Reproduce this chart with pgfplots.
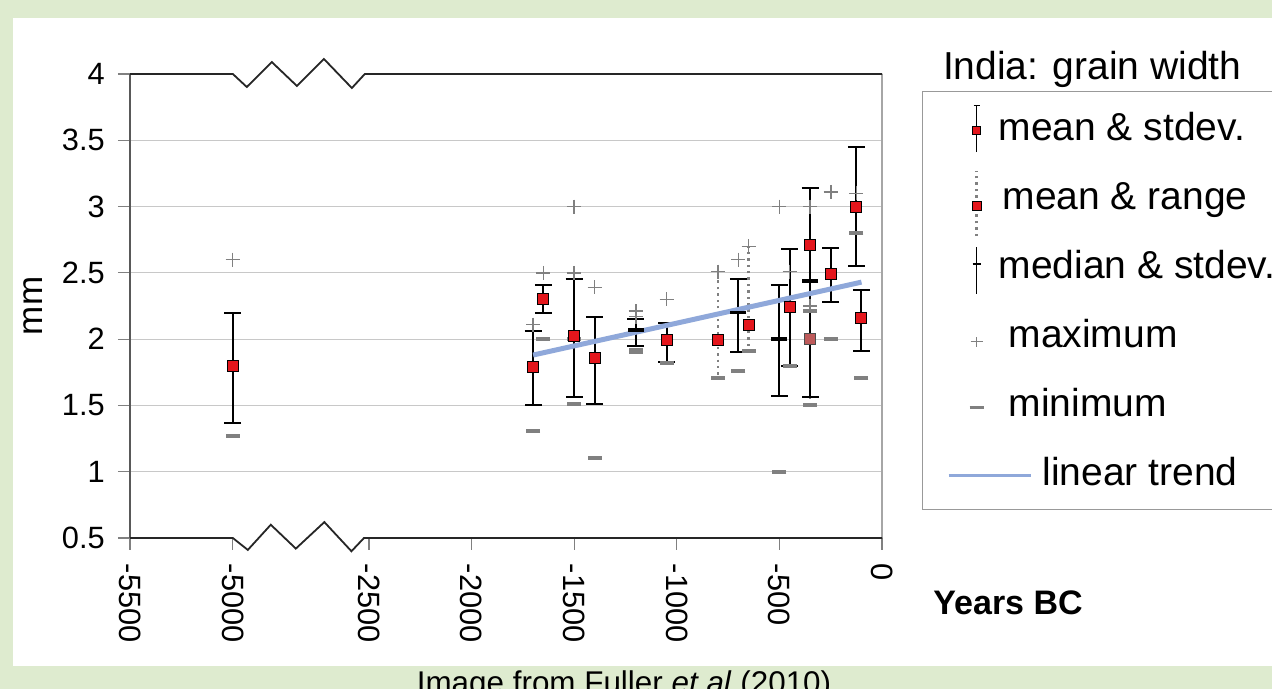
\documentclass[border=0pt]{standalone}
\usepackage{pgfplots}
\pgfplotsset{compat=1.18}
\usepackage{fontspec}
\setmainfont{Liberation Sans}
\definecolor{bggreen}{RGB}{222,235,207}
\definecolor{myred}{RGB}{228,22,28}
\definecolor{mutedred}{RGB}{190,90,90}
\definecolor{mmgray}{RGB}{128,128,128}
\definecolor{trendblue}{RGB}{143,168,218}
\definecolor{gridgray}{RGB}{200,200,200}
\begin{document}
\begin{tikzpicture}
\path[use as bounding box] (0,0) rectangle (636pt,344.5pt);
\clip (0,0) rectangle (636pt,344.5pt);
\fill[bggreen] (0,0) rectangle (636pt,344.5pt);
\fill[white] (6.5pt,11.5pt) rectangle (636pt,335.5pt);
\node[anchor=base, font=\fontsize{15.7}{18}\selectfont] at (312pt,-2.5pt) {Image from Fuller \textit{et al} (2010)};
\node[anchor=base west, font=\fontsize{19.5}{22}\selectfont] at (468pt,304.5pt) {India: grain width};
\begin{axis}[
  at={(65pt,75.5pt)}, anchor=south west,
  scale only axis, width=376pt, height=232pt,
  xmin=-3664, xmax=0, ymin=0.5, ymax=4,
  clip=false,
  axis line style={draw=none},
  tick align=outside, major tick length=6pt,
  xtick pos=left, ytick pos=left,
  xtick={-3664,-3164,-2500,-2000,-1500,-1000,-500,0},
  xticklabels={-5500,-5000,-2500,-2000,-1500,-1000,-500,0},
  ytick={1,1.5,2,2.5,3,3.5},
  yticklabels={1,1.5,2,2.5,3,3.5},
  extra y ticks={0.5,4},
  extra y tick labels={0.5,4},
  extra y tick style={grid=none},
  ymajorgrids, grid style={gridgray, line width=0.6pt},
  major tick style={mmgray, line width=0.6pt},
  tick label style={font=\fontsize{15.4}{18}\selectfont, inner sep=0pt},
  xticklabel style={rotate=-90, anchor=west},
  xticklabel shift=6.8pt,
  yticklabel shift=6.4pt,
  ylabel={mm},
  ylabel style={font=\fontsize{17.5}{20}\selectfont, at={(axis description cs:-0.129,0.5)}, anchor=center},
  xlabel={Years BC},
  xlabel style={font=\fontsize{17}{20}\selectfont\bfseries, at={(axis description cs:1.1676,-0.140)}, anchor=center},
  legend style={at={(axis description cs:1.0532,0.9634)}, anchor=north west,
    draw=mmgray!80, line width=0.6pt, fill=white,
    font=\fontsize{19.5}{22}\selectfont,
    inner xsep=21pt, inner ysep=6pt, row sep=10pt,
    nodes={inner sep=3pt, text height=15.5pt, text depth=3pt}},
  legend cell align=left,
]
% mean & range: dotted ranges
\addplot[forget plot, only marks, mark=none,
  error bars/.cd, y dir=both, y explicit,
  error bar style={mmgray, line width=1.2pt, dash pattern=on 1.2pt off 2pt}, error mark=none]
coordinates {
(-800,1.99) += (0,0.52) -= (0,0.28)
(-650,2.11) += (0,0.59) -= (0,0.20)
(-350,2.00) += (0,1.00) -= (0,0.50)
};
% mean & stdev: error bars
\addplot[forget plot, only marks, mark=none,
  error bars/.cd, y dir=both, y explicit,
  error bar style={black, line width=1pt},
  error mark=|,
  error mark options={black, line width=1pt, mark size=4.25pt}]
coordinates {
(-3164,1.80) += (0,0.40) -= (0,0.43)
(-1700,1.79) += (0,0.27) -= (0,0.29)
(-1650,2.30) += (0,0.11) -= (0,0.10)
(-1500,2.02) += (0,0.43) -= (0,0.46)
(-1400,1.86) += (0,0.31) -= (0,0.35)
(-1050,1.99) += (0,0.13) -= (0,0.16)
(-450,2.24) += (0,0.44) -= (0,0.44)
(-350,2.71) += (0,0.43) -= (0,1.15)
(-250,2.49) += (0,0.20) -= (0,0.21)
(-125,3.00) += (0,0.45) -= (0,0.45)
(-100,2.16) += (0,0.21) -= (0,0.25)
};
% median & stdev
\addplot[forget plot, only marks, mark=-, mark size=4pt, mark options={black, line width=1.8pt},
  error bars/.cd, y dir=both, y explicit,
  error bar style={black, line width=1pt},
  error mark=|,
  error mark options={black, line width=1pt, mark size=4.25pt}]
coordinates {
(-1200,2.07) += (0,0.08) -= (0,0.12)
(-700,2.20) += (0,0.25) -= (0,0.30)
(-500,2.00) += (0,0.41) -= (0,0.43)
};
\addplot[forget plot, only marks, mark=-, mark size=4pt, mark options={black, line width=1.8pt}]
coordinates {(-350,2.44)};
% linear trend
\addplot[forget plot, trendblue, line width=2.5pt] coordinates {(-1700,1.88) (-100,2.43)};
% maximum
\addplot[forget plot, only marks, mark=+, mark size=3.5pt, mark options={mmgray, line width=0.8pt}]
coordinates {
(-3164,2.60) (-1700,2.11) (-1650,2.50) (-1500,2.50) (-1500,3.00) (-1400,2.39)
(-1200,2.21) (-1200,2.17) (-1050,2.30) (-800,2.51) (-700,2.60) (-650,2.70)
(-500,3.00) (-450,2.51) (-350,3.00) (-350,2.25) (-250,3.11) (-125,3.10)
};
% minimum
\addplot[forget plot, only marks, mark=-, mark size=3.5pt, mark options={mmgray, line width=2pt}]
coordinates {
(-3164,1.27) (-1700,1.31) (-1650,2.00) (-1500,1.51) (-1500,2.00) (-1400,1.10)
(-1200,1.92) (-1200,1.90) (-1050,1.82) (-800,1.71) (-700,1.76) (-650,1.91)
(-500,1.00) (-450,1.80) (-350,1.50) (-350,2.21) (-250,2.00) (-125,2.80) (-100,1.71)
};
% mean squares
\addplot[forget plot, only marks, mark=square*, mark size=2.75pt, mark options={fill=mutedred, draw=black!70, line width=0.5pt}]
coordinates {(-350,2.00)};
\addplot[forget plot, only marks, mark=square*, mark size=2.75pt, mark options={fill=myred, draw=black, line width=0.5pt}]
coordinates {
(-3164,1.80) (-1700,1.79) (-1650,2.30) (-1500,2.02) (-1400,1.86) (-1050,1.99)
(-450,2.24) (-350,2.71) (-250,2.49) (-125,3.00) (-100,2.16) (-800,1.99) (-650,2.11)
};
% frame with axis breaks
\draw[black!65, line width=0.9pt] (rel axis cs:0,0) -- (rel axis cs:0,1);
\draw[black!35, line width=0.9pt] (rel axis cs:1,0) -- (rel axis cs:1,1);
\draw[black!85, line width=0.9pt] (axis cs:-3664,4) -- (axis cs:-3163,4) -- (axis cs:-3095,3.902) -- (axis cs:-2973,4.09) -- (axis cs:-2851,3.91) -- (axis cs:-2719,4.113) -- (axis cs:-2583,3.894) -- (axis cs:-2520,4) -- (axis cs:0,4);
\draw[black!85, line width=0.9pt] (axis cs:-3664,0.5) -- (axis cs:-3163,0.5) -- (axis cs:-3090,0.41) -- (axis cs:-2978,0.60) -- (axis cs:-2856,0.42) -- (axis cs:-2717,0.62) -- (axis cs:-2585,0.40) -- (axis cs:-2524,0.5) -- (axis cs:0,0.5);
% legend
\addlegendimage{legend image code/.code={
  \path[draw=none, fill=none] (-6pt,0) rectangle (6pt,0);
  \draw[overlay, black, line width=0.8pt] (0,-12pt) -- (0,11.25pt);
  \draw[overlay, black, line width=0.8pt] (-1.5pt,11.25pt) -- (1.5pt,11.25pt);
  \draw[overlay, black, line width=0.4pt, fill=myred] (-2pt,-3.25pt) rectangle (2pt,0.75pt);
}}
\addlegendentry{\hspace{2pt}mean \& stdev.}
\addlegendimage{legend image code/.code={
  \path[draw=none, fill=none] (-6pt,0) rectangle (6pt,0);
  \draw[overlay, mmgray, line width=1.2pt, dash pattern=on 1.2pt off 2pt] (0,-19.5pt) -- (0,12.9pt);
  \draw[overlay, black, line width=0.4pt, fill=myred] (-2.3pt,-6.85pt) rectangle (2.3pt,-2.25pt);
}}
\addlegendentry{\hspace{4pt}mean \& range}
\addlegendimage{legend image code/.code={
  \path[draw=none, fill=none] (-6pt,0) rectangle (6pt,0);
  \draw[overlay, black, line width=0.8pt] (0,-13.75pt) -- (0,9.55pt);
  \draw[overlay, black, line width=1pt] (-2pt,0.95pt) -- (2pt,0.95pt);
}}
\addlegendentry{\hspace{2pt}median \& stdev.}
\addlegendimage{legend image code/.code={
  \path[draw=none, fill=none] (-6pt,0) rectangle (6pt,0);
  \draw[overlay, mmgray, line width=0.6pt] (-3pt,-3.25pt) -- (3pt,-3.25pt) (0,-5.75pt) -- (0,-0.75pt);
}}
\addlegendentry{\hspace{7pt}maximum}
\addlegendimage{legend image code/.code={
  \path[draw=none, fill=none] (-6pt,0) rectangle (6pt,0);
  \draw[overlay, mmgray, line width=1.5pt] (-3.5pt,-1.95pt) -- (3.5pt,-1.95pt);
}}
\addlegendentry{\hspace{7pt}minimum}
\addlegendimage{legend image code/.code={
  \path[draw=none, fill=none] (-6pt,0) rectangle (6pt,0);
  \draw[overlay, trendblue, line width=1.5pt] (-14pt,-1.25pt) -- (27pt,-1.25pt);
}}
\addlegendentry{\hspace{24pt}linear trend}
\end{axis}
\end{tikzpicture}
\end{document}
